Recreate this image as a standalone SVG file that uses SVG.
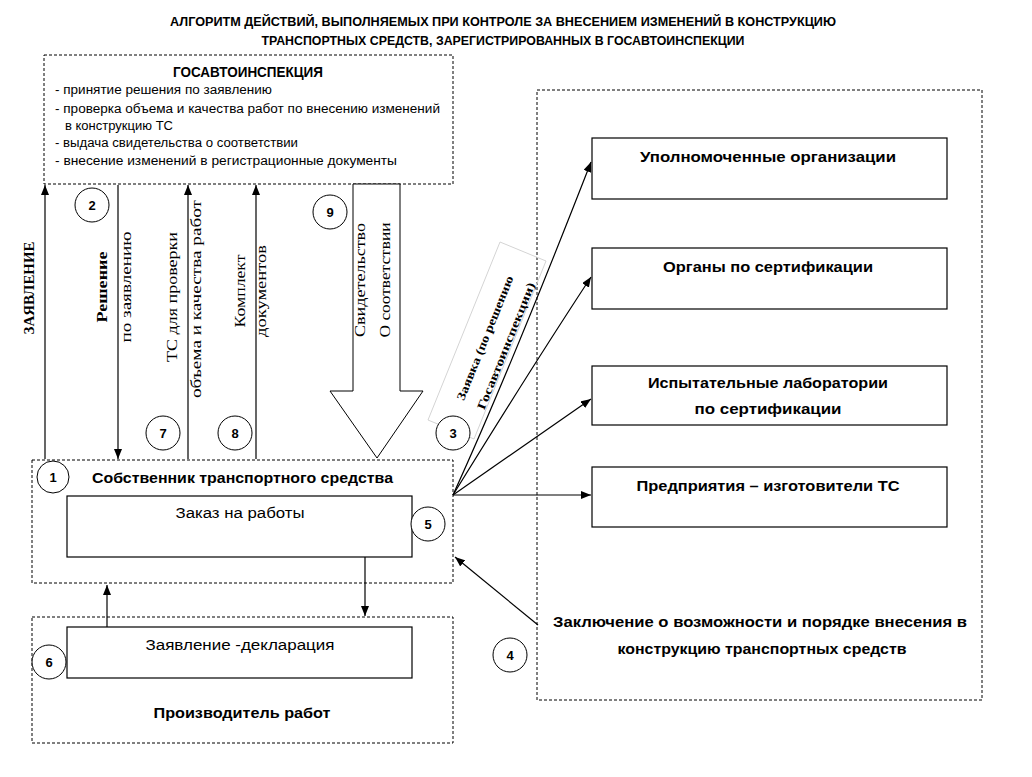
<svg xmlns="http://www.w3.org/2000/svg" width="1032" height="777" viewBox="0 0 1032 777">
<style>
.dash{fill:none;stroke:#000;stroke-width:1;stroke-dasharray:3 2}
.box{fill:#fff;stroke:#000;stroke-width:1.2}
.circ{fill:#fff;stroke:#000;stroke-width:1}
.conn{fill:none;stroke:#000;stroke-width:1.2}
.s{font-family:"Liberation Sans",Arial,sans-serif;fill:#000}
.b{font-weight:bold}
.serif{font-family:"Liberation Serif","Times New Roman",serif;fill:#000}
.num{font-family:"Liberation Sans",Arial,sans-serif;font-weight:bold;font-size:13px;text-anchor:middle}
.mid{text-anchor:middle}
</style>
<defs>
<marker id="arr" markerUnits="userSpaceOnUse" markerWidth="10" markerHeight="8" refX="10" refY="4" orient="auto">
<path d="M0,0 L10,4 L0,8 z" fill="#000"/>
</marker>
</defs>
<rect width="1032" height="777" fill="#fff"/>

<g id="title">
<text class="s b mid" x="503" y="26" font-size="13" textLength="666" lengthAdjust="spacingAndGlyphs">АЛГОРИТМ ДЕЙСТВИЙ, ВЫПОЛНЯЕМЫХ ПРИ КОНТРОЛЕ ЗА ВНЕСЕНИЕМ ИЗМЕНЕНИЙ В КОНСТРУКЦИЮ</text>
<text class="s b mid" x="503" y="45" font-size="13" textLength="483" lengthAdjust="spacingAndGlyphs">ТРАНСПОРТНЫХ СРЕДСТВ, ЗАРЕГИСТРИРОВАННЫХ В ГОСАВТОИНСПЕКЦИИ</text>
</g>

<g id="gai">
<rect class="dash" x="44" y="55" width="409" height="129"/>
<text class="s b mid" x="248" y="77" font-size="14" textLength="150" lengthAdjust="spacingAndGlyphs">ГОСАВТОИНСПЕКЦИЯ</text>
<text class="s" x="55" y="94" font-size="12.5" textLength="217" lengthAdjust="spacingAndGlyphs">- принятие решения по заявлению</text>
<text class="s" x="55" y="113" font-size="12.5" textLength="385" lengthAdjust="spacingAndGlyphs">- проверка объема и качества работ по внесению изменений</text>
<text class="s" x="65" y="130" font-size="12.5" textLength="108" lengthAdjust="spacingAndGlyphs">в конструкцию ТС</text>
<text class="s" x="55" y="147" font-size="12.5" textLength="243" lengthAdjust="spacingAndGlyphs">- выдача свидетельства о соответствии</text>
<text class="s" x="55" y="165" font-size="12.5" textLength="342" lengthAdjust="spacingAndGlyphs">- внесение изменений в регистрационные документы</text>
</g>

<g id="right-area">
<rect class="dash" x="537" y="90" width="445" height="610"/>
</g>

<g id="org1">
<rect class="box" x="592" y="138" width="355" height="61"/>
<text class="s b mid" x="768" y="162" font-size="15" textLength="256" lengthAdjust="spacingAndGlyphs">Уполномоченные организации</text>
</g>
<g id="org2">
<rect class="box" x="592" y="248" width="355" height="61"/>
<text class="s b mid" x="768" y="272" font-size="15" textLength="210" lengthAdjust="spacingAndGlyphs">Органы по сертификации</text>
</g>
<g id="org3">
<rect class="box" x="592" y="366" width="355" height="59"/>
<text class="s b mid" x="768" y="388" font-size="15" textLength="240" lengthAdjust="spacingAndGlyphs">Испытательные лаборатории</text>
<text class="s b mid" x="768" y="414" font-size="15" textLength="147" lengthAdjust="spacingAndGlyphs">по  сертификации</text>
</g>
<g id="org4">
<rect class="box" x="592" y="467" width="355" height="60"/>
<text class="s b mid" x="768" y="491" font-size="15" textLength="263" lengthAdjust="spacingAndGlyphs">Предприятия – изготовители ТС</text>
</g>

<g id="conclusion">
<text class="s b mid" x="760" y="627" font-size="15" textLength="414" lengthAdjust="spacingAndGlyphs">Заключение о возможности и порядке внесения в</text>
<text class="s b mid" x="762" y="654" font-size="15" textLength="289" lengthAdjust="spacingAndGlyphs">конструкцию транспортных средств</text>
</g>

<g id="owner">
<rect class="dash" x="32" y="460" width="421" height="123"/>
<text class="s b" x="92" y="483" font-size="15" textLength="301" lengthAdjust="spacingAndGlyphs">Собственник транспортного средства</text>
<rect class="box" x="67" y="496" width="345" height="61"/>
<text class="s mid" x="240" y="518" font-size="15.5" textLength="129" lengthAdjust="spacingAndGlyphs">Заказ на работы</text>
</g>

<g id="producer">
<rect class="dash" x="32" y="617" width="421" height="126"/>
<rect class="box" x="67" y="627" width="345" height="51"/>
<text class="s mid" x="240" y="650" font-size="15.5" textLength="189" lengthAdjust="spacingAndGlyphs">Заявление -декларация</text>
<text class="s b mid" x="242" y="718" font-size="15" textLength="177" lengthAdjust="spacingAndGlyphs">Производитель работ</text>
</g>

<g id="connectors">
<line class="conn" x1="45" y1="459" x2="45" y2="185" marker-end="url(#arr)"/>
<line class="conn" x1="118" y1="185" x2="118" y2="459" marker-end="url(#arr)"/>
<line class="conn" x1="188" y1="459" x2="188" y2="185" marker-end="url(#arr)"/>
<line class="conn" x1="256" y1="459" x2="256" y2="185" marker-end="url(#arr)"/>
<polygon points="353,184 400,184 400,391 423,391 377,458 330,391 353,391" fill="#fff" stroke="#000" stroke-width="1"/>
<line class="conn" x1="107" y1="627" x2="107" y2="585" marker-end="url(#arr)"/>
<line class="conn" x1="365" y1="557" x2="365" y2="616" marker-end="url(#arr)"/>
<line class="conn" x1="538" y1="625" x2="455" y2="557" marker-end="url(#arr)"/>
<path class="conn" d="M453,495 Q510,370 591,162" marker-end="url(#arr)"/>
<path class="conn" d="M453,495 Q530,370 591,277" marker-end="url(#arr)"/>
<line class="conn" x1="453" y1="495" x2="591" y2="399" marker-end="url(#arr)"/>
<line class="conn" x1="453" y1="495" x2="591" y2="495" marker-end="url(#arr)"/>
</g>

<g id="labels">
<text class="serif b mid" transform="translate(34,288) rotate(-90)" font-size="14" textLength="93" lengthAdjust="spacingAndGlyphs">ЗАЯВЛЕНИЕ</text>
<text class="serif b mid" transform="translate(107,287) rotate(-90)" font-size="14" textLength="71" lengthAdjust="spacingAndGlyphs">Решение</text>
<text class="serif mid" transform="translate(131,287) rotate(-90)" font-size="14" textLength="111" lengthAdjust="spacingAndGlyphs">по заявлению</text>
<text class="serif mid" transform="translate(177,297) rotate(-90)" font-size="14.5" textLength="130" lengthAdjust="spacingAndGlyphs">ТС для проверки</text>
<text class="serif mid" transform="translate(201,299) rotate(-90)" font-size="14" textLength="198" lengthAdjust="spacingAndGlyphs">объема и качества работ</text>
<text class="serif mid" transform="translate(245,291) rotate(-90)" font-size="14.5" textLength="73" lengthAdjust="spacingAndGlyphs">Комплект</text>
<text class="serif mid" transform="translate(266,291) rotate(-90)" font-size="14" textLength="92" lengthAdjust="spacingAndGlyphs">документов</text>
<text class="serif mid" transform="translate(365,280) rotate(-90)" font-size="14.5" textLength="114" lengthAdjust="spacingAndGlyphs">Свидетельство</text>
<text class="serif mid" transform="translate(390,280) rotate(-90)" font-size="14.5" textLength="115" lengthAdjust="spacingAndGlyphs">О соответствии</text>
<polygon points="500,242 546,261 474,439 428,420" fill="none" stroke="#d4d4d4" stroke-width="1"/>
<text class="serif b mid" transform="translate(485,338) rotate(-68)" dy="4" font-size="12" textLength="133" lengthAdjust="spacingAndGlyphs">Заявка (по решению</text>
<text class="serif b mid" transform="translate(506,346) rotate(-68)" dy="4" font-size="12" textLength="136" lengthAdjust="spacingAndGlyphs">Госавтоинспекции)</text>
</g>

<g id="numbers">
<circle class="circ" cx="53" cy="477" r="16"/><text class="num" x="53" y="482">1</text>
<circle class="circ" cx="92" cy="205" r="17"/><text class="num" x="92" y="210">2</text>
<circle class="circ" cx="453" cy="433" r="17"/><text class="num" x="453" y="438">3</text>
<circle class="circ" cx="510" cy="655" r="17"/><text class="num" x="510" y="660">4</text>
<circle class="circ" cx="428" cy="524" r="17"/><text class="num" x="428" y="529">5</text>
<circle class="circ" cx="49" cy="662" r="17"/><text class="num" x="49" y="667">6</text>
<circle class="circ" cx="163" cy="433" r="17"/><text class="num" x="163" y="438">7</text>
<circle class="circ" cx="235" cy="433" r="17"/><text class="num" x="235" y="438">8</text>
<circle class="circ" cx="330" cy="212" r="17"/><text class="num" x="330" y="217">9</text>
</g>
</svg>
